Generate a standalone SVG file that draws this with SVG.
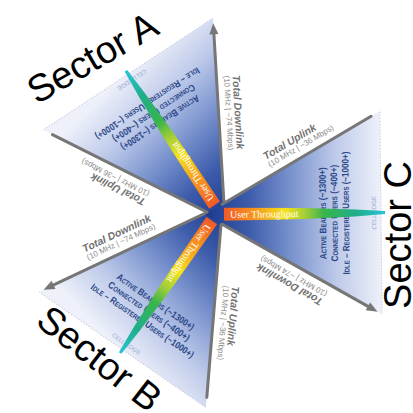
<svg xmlns="http://www.w3.org/2000/svg" width="413" height="413" viewBox="0 0 413 413">
<defs>
<linearGradient id="gC" gradientUnits="userSpaceOnUse" x1="0" y1="0" x2="176" y2="0">
<stop offset="0" stop-color="#1b3a8c"/><stop offset="0.25" stop-color="#3d5cab"/><stop offset="0.5" stop-color="#7c95cf"/><stop offset="0.75" stop-color="#bfcbea"/><stop offset="1" stop-color="#eef1fa"/>
</linearGradient>
<linearGradient id="gA" gradientUnits="userSpaceOnUse" x1="0" y1="0" x2="172" y2="-36">
<stop offset="0" stop-color="#1b3a8c"/><stop offset="0.25" stop-color="#3d5cab"/><stop offset="0.5" stop-color="#7c95cf"/><stop offset="0.75" stop-color="#bfcbea"/><stop offset="1" stop-color="#eef1fa"/>
</linearGradient>
<linearGradient id="gB" gradientUnits="userSpaceOnUse" x1="0" y1="0" x2="172" y2="36">
<stop offset="0" stop-color="#1b3a8c"/><stop offset="0.25" stop-color="#3d5cab"/><stop offset="0.5" stop-color="#7c95cf"/><stop offset="0.75" stop-color="#bfcbea"/><stop offset="1" stop-color="#eef1fa"/>
</linearGradient>
<linearGradient id="bar" x1="0" y1="0" x2="1" y2="0">
<stop offset="0" stop-color="#f05a28"/><stop offset="0.18" stop-color="#f7941d"/><stop offset="0.38" stop-color="#f5e31a"/><stop offset="0.5" stop-color="#a6cf38"/><stop offset="0.62" stop-color="#39b54a"/><stop offset="0.82" stop-color="#1fae8a"/><stop offset="1" stop-color="#29c5d6"/>
</linearGradient>
</defs>
<style>
.line{stroke:#767676;stroke-width:3;fill:none;stroke-linecap:round}
.head{fill:#767676}
.edge{stroke:#c9cde0;stroke-width:1;stroke-dasharray:1.5 1.5;fill:none}
.tl{font-family:"Liberation Sans",Arial,sans-serif;font-weight:bold;font-style:italic;font-size:10.5px;fill:#727272}
.ts{font-family:"Liberation Sans",Arial,sans-serif;font-size:8px;fill:#8c8c8c}
.st{font-family:"Liberation Sans",Arial,sans-serif;font-weight:bold;font-variant:small-caps;font-size:9.5px;fill:#2b4787;text-anchor:middle}
.ce{font-family:"Liberation Sans",Arial,sans-serif;font-size:6px;fill:#9aa6cf;text-anchor:middle}
.ut{font-family:"Liberation Serif","Times New Roman",serif;font-size:10px;fill:#ffffff}
.title{font-family:"Liberation Sans",Arial,sans-serif;font-size:38px;fill:#000000;text-anchor:middle}
</style>

<g id="sectorA" transform="translate(225,221) rotate(236.6)">
<polygon points="0,0 176,-101.6 176,101.6" fill="url(#gA)"/>
<line class="edge" x1="176" y1="-101" x2="176" y2="101"/>
<g transform="translate(121,0) rotate(-90)"><text class="st" textLength="92" lengthAdjust="spacingAndGlyphs">Active Bearers (~1300+)</text></g>
<g transform="translate(132.5,0) rotate(-90)"><text class="st" textLength="97" lengthAdjust="spacingAndGlyphs">Connected Users (~400+)</text></g>
<g transform="translate(144,0) rotate(-90)"><text class="st" textLength="123" lengthAdjust="spacingAndGlyphs">Idle – Registered Users (~1000+)</text></g>
<g transform="translate(171,0) rotate(-90)"><text class="ce">CELL EDGE</text></g>
<polygon points="19,-6.5 100,-5.5 150,-3.5 180,-1.5 180,1.5 150,3.5 100,5.5 19,6.5" fill="url(#bar)"/>
<text class="ut" x="25" y="3.5">User Throughput</text>
<g transform="translate(61.3,-53.9) rotate(-30)"><text class="tl">Total Uplink</text><text class="ts" y="8.5">(10 MHz | ~36 Mbps)</text></g>
<g transform="translate(117.6,86.4) rotate(210)"><text class="tl">Total Downlink</text><text class="ts" y="8.5">(10 MHz | ~74 Mbps)</text></g>
</g>

<g id="sectorB" transform="translate(222.6,205) rotate(124.7)">
<polygon points="0,0 176,-101.6 176,101.6" fill="url(#gB)"/>
<line class="edge" x1="176" y1="-101" x2="176" y2="101"/>
<g transform="translate(121,0) rotate(-90)"><text class="st" textLength="92" lengthAdjust="spacingAndGlyphs">Active Bearers (~1300+)</text></g>
<g transform="translate(132.5,0) rotate(-90)"><text class="st" textLength="97" lengthAdjust="spacingAndGlyphs">Connected Users (~400+)</text></g>
<g transform="translate(144,0) rotate(-90)"><text class="st" textLength="123" lengthAdjust="spacingAndGlyphs">Idle – Registered Users (~1000+)</text></g>
<g transform="translate(171,0) rotate(-90)"><text class="ce">CELL EDGE</text></g>
<polygon points="19,-6.5 100,-5.5 150,-3.5 180,-1.5 180,1.5 150,3.5 100,5.5 19,6.5" fill="url(#bar)"/>
<text class="ut" x="25" y="3.5">User Throughput</text>
<g transform="translate(61.3,-53.9) rotate(-30)"><text class="tl">Total Uplink</text><text class="ts" y="8.5">(10 MHz | ~36 Mbps)</text></g>
<g transform="translate(117.6,86.4) rotate(210)"><text class="tl">Total Downlink</text><text class="ts" y="8.5">(10 MHz | ~74 Mbps)</text></g>
</g>

<g id="sectorC" transform="translate(205,214.5) rotate(-0.6)">
<polygon points="0,0 176,-101.6 176,101.6" fill="url(#gC)"/>
<line class="edge" x1="176" y1="-101" x2="176" y2="101"/>
<g transform="translate(121,0) rotate(-90)"><text class="st" textLength="92" lengthAdjust="spacingAndGlyphs">Active Bearers (~1300+)</text></g>
<g transform="translate(132.5,0) rotate(-90)"><text class="st" textLength="97" lengthAdjust="spacingAndGlyphs">Connected Users (~400+)</text></g>
<g transform="translate(144,0) rotate(-90)"><text class="st" textLength="123" lengthAdjust="spacingAndGlyphs">Idle – Registered Users (~1000+)</text></g>
<g transform="translate(171,0) rotate(-90)"><text class="ce">CELL EDGE</text></g>
<polygon points="19,-6.5 100,-5.5 150,-3.5 180,-1.5 180,1.5 150,3.5 100,5.5 19,6.5" fill="url(#bar)"/>
<text class="ut" x="25" y="3.5">User Throughput</text>
<g transform="translate(61.3,-53.9) rotate(-30)"><text class="tl">Total Uplink</text><text class="ts" y="8.5">(10 MHz | ~36 Mbps)</text></g>
<g transform="translate(117.6,86.4) rotate(210)"><text class="tl">Total Downlink</text><text class="ts" y="8.5">(10 MHz | ~74 Mbps)</text></g>
</g>

<g id="connectors">
<g transform="translate(225,221) rotate(236.6)">
<line class="line" x1="17.3" y1="-10" x2="167.1" y2="-96.5"/>
<line class="line" x1="17.3" y1="10" x2="163.3" y2="94.3"/>
<polygon class="head" points="171.5,99 159.7,97.4 164.2,89.6"/>
</g>
<g transform="translate(222.6,205) rotate(124.7)">
<line class="line" x1="17.3" y1="-10" x2="167.1" y2="-96.5"/>
<line class="line" x1="17.3" y1="10" x2="163.3" y2="94.3"/>
<polygon class="head" points="171.5,99 159.7,97.4 164.2,89.6"/>
</g>
<g transform="translate(205,214.5) rotate(-0.6)">
<line class="line" x1="17.3" y1="-10" x2="167.1" y2="-96.5"/>
<line class="line" x1="17.3" y1="10" x2="163.3" y2="94.3"/>
<polygon class="head" points="171.5,99 159.7,97.4 164.2,89.6"/>
</g>
</g>

<g id="titles">
<g transform="translate(92,57) rotate(-30)"><text class="title" y="13.7">Sector A</text></g>
<g transform="translate(100,358) rotate(38)"><text class="title" y="13.7">Sector B</text></g>
<g transform="translate(397,235) rotate(-90)"><text class="title" y="13.7">Sector C</text></g>
</g>
</svg>
